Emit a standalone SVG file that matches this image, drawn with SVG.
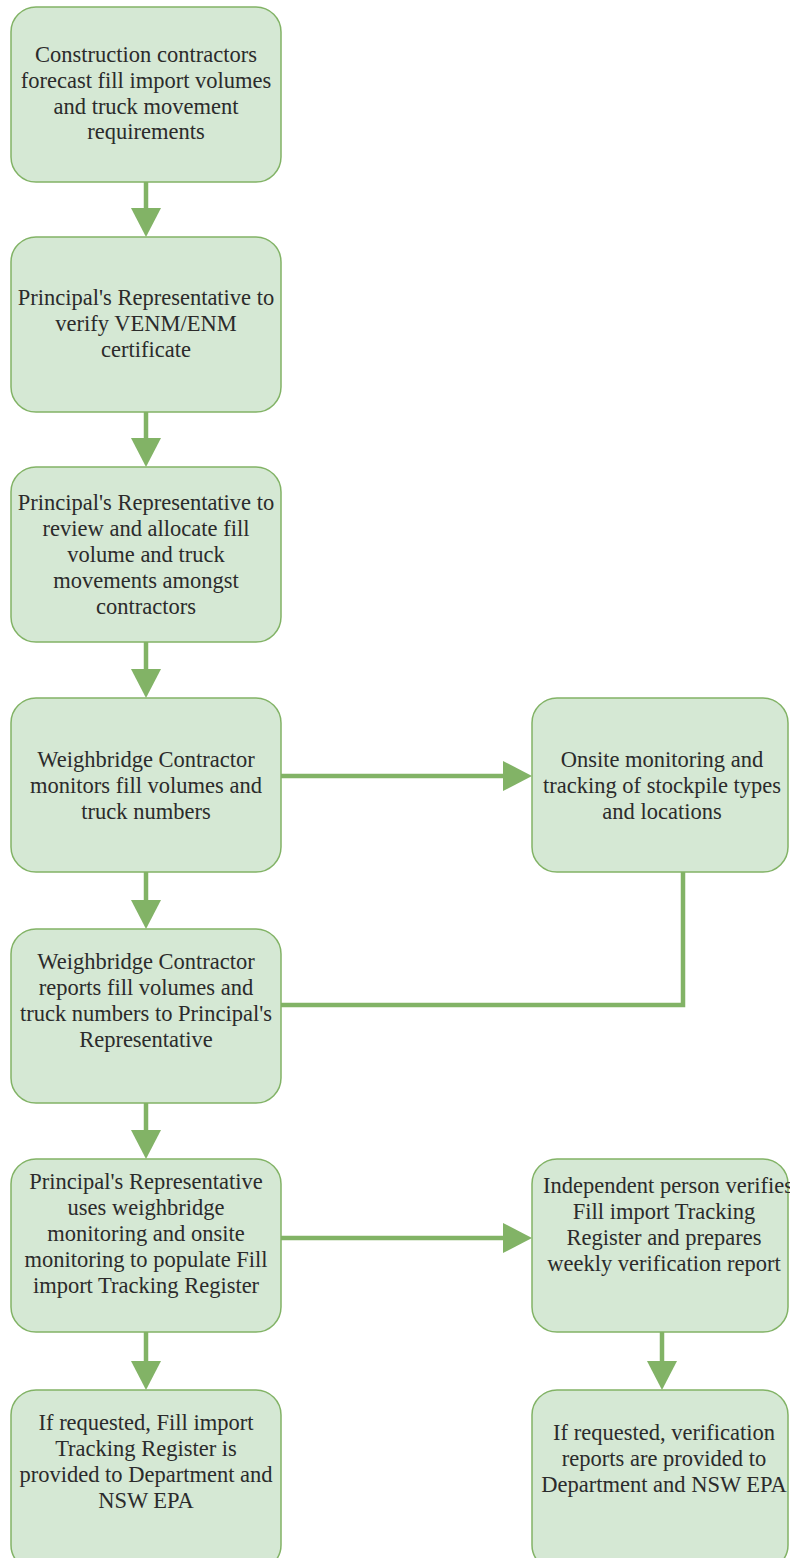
<svg xmlns="http://www.w3.org/2000/svg" width="790" height="1558" viewBox="0 0 790 1558">
<style>
.box{fill:#d5e8d4;stroke:#82b366;stroke-width:1.5}
.t{font-family:"Liberation Serif","Times New Roman",serif;font-size:22.5px;fill:#2b2b2b;text-anchor:middle}
.c{fill:none;stroke:#82b366;stroke-width:4.5}
.h{fill:#82b366;stroke:none}
</style>
<rect width="790" height="1558" fill="#ffffff"/>
<g id="connectors">
<line class="c" x1="146" y1="182" x2="146" y2="210"/><polygon class="h" points="131,208 161,208 146,237"/>
<line class="c" x1="146" y1="412" x2="146" y2="440"/><polygon class="h" points="131,438 161,438 146,467"/>
<line class="c" x1="146" y1="642" x2="146" y2="671"/><polygon class="h" points="131,669 161,669 146,698"/>
<line class="c" x1="146" y1="872" x2="146" y2="902"/><polygon class="h" points="131,900 161,900 146,929"/>
<line class="c" x1="146" y1="1103" x2="146" y2="1132"/><polygon class="h" points="131,1130 161,1130 146,1159"/>
<line class="c" x1="146" y1="1332" x2="146" y2="1363"/><polygon class="h" points="131,1361 161,1361 146,1390"/>
<line class="c" x1="281" y1="776" x2="505" y2="776"/><polygon class="h" points="503,761 503,791 532,776"/>
<path class="c" d="M683 872 V1005 H281"/>
<line class="c" x1="281" y1="1238" x2="505" y2="1238"/><polygon class="h" points="503,1223 503,1253 532,1238"/>
<line class="c" x1="662" y1="1332" x2="662" y2="1363"/><polygon class="h" points="647,1361 677,1361 662,1390"/>
</g>
<g id="n1"><rect class="box" x="11" y="7" width="270" height="175" rx="25"/>
<text class="t"><tspan x="146" y="62">Construction contractors</tspan><tspan x="146" y="88">forecast fill import volumes</tspan><tspan x="146" y="114">and truck movement</tspan><tspan x="146" y="139">requirements</tspan></text></g>
<g id="n2"><rect class="box" x="11" y="237" width="270" height="175" rx="25"/>
<text class="t"><tspan x="146" y="305">Principal's Representative to</tspan><tspan x="146" y="331">verify VENM/ENM</tspan><tspan x="146" y="357">certificate</tspan></text></g>
<g id="n3"><rect class="box" x="11" y="467" width="270" height="175" rx="25"/>
<text class="t"><tspan x="146" y="510">Principal's Representative to</tspan><tspan x="146" y="536">review and allocate fill</tspan><tspan x="146" y="562">volume and truck</tspan><tspan x="146" y="588">movements amongst</tspan><tspan x="146" y="614">contractors</tspan></text></g>
<g id="n4"><rect class="box" x="11" y="698" width="270" height="174" rx="25"/>
<text class="t"><tspan x="146" y="767">Weighbridge Contractor</tspan><tspan x="146" y="793">monitors fill volumes and</tspan><tspan x="146" y="819">truck numbers</tspan></text></g>
<g id="n5"><rect class="box" x="11" y="929" width="270" height="174" rx="25"/>
<text class="t"><tspan x="146" y="969">Weighbridge Contractor</tspan><tspan x="146" y="995">reports fill volumes and</tspan><tspan x="146" y="1021">truck numbers to Principal's</tspan><tspan x="146" y="1047">Representative</tspan></text></g>
<g id="n6"><rect class="box" x="11" y="1159" width="270" height="173" rx="25"/>
<text class="t"><tspan x="146" y="1189">Principal's Representative</tspan><tspan x="146" y="1215">uses weighbridge</tspan><tspan x="146" y="1241">monitoring and onsite</tspan><tspan x="146" y="1267">monitoring to populate Fill</tspan><tspan x="146" y="1293">import Tracking Register</tspan></text></g>
<g id="n7"><rect class="box" x="11" y="1390" width="270" height="180" rx="25"/>
<text class="t"><tspan x="146" y="1430">If requested, Fill import</tspan><tspan x="146" y="1456">Tracking Register is</tspan><tspan x="146" y="1482">provided to Department and</tspan><tspan x="146" y="1508">NSW EPA</tspan></text></g>
<g id="nA"><rect class="box" x="532" y="698" width="256" height="174" rx="25"/>
<text class="t"><tspan x="662" y="767">Onsite monitoring and</tspan><tspan x="662" y="793">tracking of stockpile types</tspan><tspan x="662" y="819">and locations</tspan></text></g>
<g id="nB"><rect class="box" x="532" y="1159" width="256" height="173" rx="25"/>
<text class="t"><tspan x="668" y="1193">Independent person verifies</tspan><tspan x="664" y="1219">Fill import Tracking</tspan><tspan x="664" y="1245">Register and prepares</tspan><tspan x="664" y="1271">weekly verification report</tspan></text></g>
<g id="nC"><rect class="box" x="532" y="1390" width="256" height="180" rx="25"/>
<text class="t"><tspan x="664" y="1440">If requested, verification</tspan><tspan x="664" y="1466">reports are provided to</tspan><tspan x="664" y="1492">Department and NSW EPA</tspan></text></g>
</svg>
